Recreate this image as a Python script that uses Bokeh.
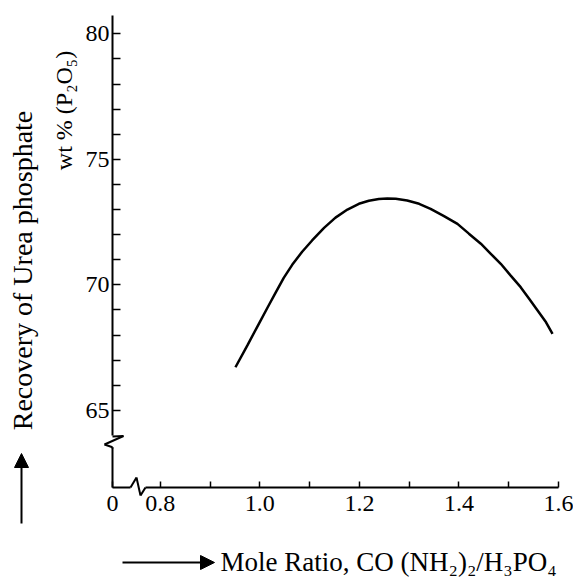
import math
from bokeh.plotting import figure
from bokeh.models import (Arrow, NormalHead, Label, FixedTicker, CustomJSTickFormatter,
                          ColumnDataSource, Range1d)
from bokeh.embed import file_html
from bokeh.resources import INLINE

# ---- data ----
mole_ratio = [0.951, 0.975, 0.998, 1.015, 1.032, 1.048, 1.065, 1.085, 1.105,
              1.129, 1.152, 1.176, 1.199, 1.219, 1.239, 1.256, 1.273, 1.296,
              1.320, 1.343, 1.370, 1.397, 1.420, 1.444, 1.464, 1.484, 1.504,
              1.524, 1.541, 1.558, 1.575, 1.588]
recovery = [66.72, 67.59, 68.45, 69.08, 69.70, 70.28, 70.80, 71.32, 71.77,
            72.27, 72.68, 73.00, 73.23, 73.35, 73.42, 73.44, 73.43, 73.36,
            73.23, 73.03, 72.74, 72.43, 72.04, 71.64, 71.24, 70.84, 70.37,
            69.91, 69.45, 68.98, 68.51, 68.05]

x_major = [0.8, 1.0, 1.2, 1.4, 1.6]
x_minor = [0.9, 1.1, 1.3, 1.5]
y_major = [65, 70, 75, 80]
y_minor = [66, 67, 68, 69, 71, 72, 73, 74, 76, 77, 78, 79]

# ---- layout (canvas pixels) ----
W, H = 573, 578
x0, x1 = 0.704, 1.6          # x extent of the drawn axis
y0, y1 = 61.93, 80.73        # y extent of the drawn axis
FL, FR = 112, 558            # canvas x of x0, x1
FT, FB = 15, 487             # canvas y of y1, y0
XPX = (FR - FL) / (x1 - x0)
YPX = (FB - FT) / (y1 - y0)


def cx(px):
    return x0 + (px - FL) / XPX


def cy(py):
    return y0 + (FB - py) / YPX


SERIF = "Liberation Serif"

p = figure(width=W, height=H,
           x_range=Range1d(cx(0), cx(W)), y_range=Range1d(cy(H), cy(0)),
           output_backend="svg", toolbar_location=None,
           min_border_left=0, min_border_right=0,
           min_border_top=0, min_border_bottom=0)
p.grid.visible = False
p.outline_line_color = None
p.background_fill_color = "white"
p.border_fill_color = "white"

xa = p.xaxis[0]
ya = p.yaxis[0]
xa.fixed_location = y0
ya.fixed_location = x0
xa.bounds = (x0, x1)
ya.bounds = (y0, y1)
xa.ticker = FixedTicker(ticks=[x0] + x_major, minor_ticks=x_minor)
xa.formatter = CustomJSTickFormatter(code="return tick < 0.75 ? '0' : tick.toFixed(1);")
ya.ticker = FixedTicker(ticks=y_major, minor_ticks=y_minor)

for ax in (xa, ya):
    ax.axis_line_color = "black"
    ax.axis_line_width = 2
    ax.major_tick_line_color = "black"
    ax.minor_tick_line_color = "black"
    ax.major_tick_line_width = 1.5
    ax.minor_tick_line_width = 1.5
    ax.major_tick_out = 0
    ax.minor_tick_out = 0
    ax.major_label_text_font = SERIF
    ax.major_label_text_font_size = "24px"
    ax.major_label_text_color = "black"

ya.major_tick_in = 8
ya.minor_tick_in = 8
ya.major_label_standoff = 3
xa.major_tick_in = 6
xa.minor_tick_in = 6
xa.major_label_standoff = 8

# curve
p.line(mole_ratio, recovery, line_color="black", line_width=2.5)

# axis breaks: white cover then zigzag
cover = ColumnDataSource(dict(
    xs=[cx(FL), cx(130)], ys=[cy(435), cy(FB)],
    xe=[cx(FL), cx(145)], ye=[cy(447), cy(FB)]))
p.add_layout(Arrow(x_start="xs", y_start="ys", x_end="xe", y_end="ye", source=cover,
                   end=None, line_color="white", line_width=5))

zz_x = [cx(FL), cx(FL + 11), cx(FL - 8), cx(FL), cx(130), cx(136), cx(140)]
zz_y = [cy(436), cy(435.5), cy(444), cy(446.7), cy(FB), cy(FB - 10), cy(FB + 8)]
zz_xe = [cx(FL + 11), cx(FL - 8), cx(FL), cx(FL), cx(136), cx(140), cx(145)]
zz_ye = [cy(435.5), cy(444), cy(446.7), cy(448), cy(FB - 10), cy(FB + 8), cy(FB)]
zz = ColumnDataSource(dict(xs=zz_x, ys=zz_y, xe=zz_xe, ye=zz_ye))
p.add_layout(Arrow(x_start="xs", y_start="ys", x_end="xe", y_end="ye", source=zz,
                   end=None, line_color="black", line_width=2))

# axis titles
p.add_layout(Label(x=cx(22), y=cy(270), text="Recovery of Urea phosphate",
                   angle=math.pi / 2, text_align="center", text_baseline="middle",
                   text_font=SERIF, text_font_size="28px", text_color="black"))
p.add_layout(Label(x=cx(63), y=cy(110), text="wt % (P₂O₅)",
                   angle=math.pi / 2, text_align="center", text_baseline="middle",
                   text_font=SERIF, text_font_size="24px", text_color="black"))
p.add_layout(Label(x=cx(220), y=cy(561), text="Mole Ratio,  CO (NH₂)₂/H₃PO₄",
                   text_align="left", text_baseline="middle",
                   text_font=SERIF, text_font_size="27px", text_color="black"))

# arrows next to titles
p.add_layout(Arrow(x_start=cx(21), y_start=cy(523), x_end=cx(21), y_end=cy(453),
                   line_color="black", line_width=2,
                   end=NormalHead(size=14, fill_color="black", line_color="black")))
p.add_layout(Arrow(x_start=cx(122), y_start=cy(562), x_end=cx(214), y_end=cy(562),
                   line_color="black", line_width=2,
                   end=NormalHead(size=14, fill_color="black", line_color="black")))

open("out.html", "w").write(file_html(p, INLINE))
